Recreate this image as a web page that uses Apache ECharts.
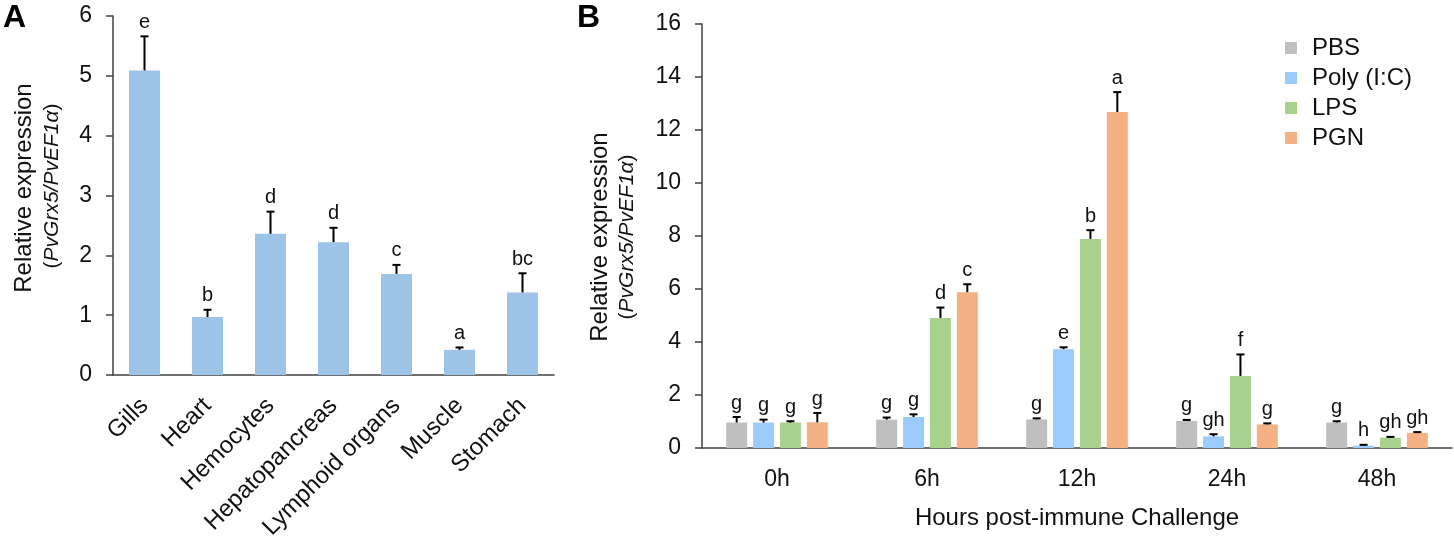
<!DOCTYPE html>
<html>
<head>
<meta charset="utf-8">
<title>PvGrx5 expression</title>
<script src="https://cdn.jsdelivr.net/npm/echarts@6/dist/echarts.min.js"></script>
<style>
  body { margin: 0; background: #fff; }
  #main { width: 1454px; height: 539px; }
</style>
</head>
<body>
<div id="main"></div>
<script type="text/javascript">
  // panel A - tissues
  var tissues = ['Gills', 'Heart', 'Hemocytes', 'Hepatopancreas', 'Lymphoid organs', 'Muscle', 'Stomach'];
  var tissueMean = [5.09, 0.97, 2.36, 2.22, 1.69, 0.42, 1.38];
  var tissueSd = [0.57, 0.12, 0.37, 0.24, 0.15, 0.04, 0.32];
  var tissueSig = ['e', 'b', 'd', 'd', 'c', 'a', 'bc'];

  // panel B - time course
  var hours = ['0h', '6h', '12h', '24h', '48h'];
  var groups = ['PBS', 'Poly (I:C)', 'LPS', 'PGN'];
  var pbs = [0.96, 1.07, 1.08, 1.02, 0.96];
  var pbsSd = [0.21, 0.08, 0.04, 0.04, 0.05];
  var poly = [0.96, 1.17, 3.73, 0.44, 0.09];
  var polySd = [0.11, 0.10, 0.07, 0.08, 0.03];
  var lps = [0.96, 4.91, 7.89, 2.72, 0.39];
  var lpsSd = [0.05, 0.39, 0.33, 0.81, 0.03];
  var pgn = [0.97, 5.88, 12.68, 0.89, 0.57];
  var pgnSd = [0.35, 0.30, 0.75, 0.04, 0.03];
  var pbsSig = ['g', 'g', 'g', 'g', 'g'];
  var polySig = ['g', 'g', 'e', 'gh', 'h'];
  var lpsSig = ['g', 'd', 'b', 'f', 'gh'];
  var pgnSig = ['g', 'c', 'a', 'g', 'gh'];

  var FONT = 'Liberation Sans, Arial, sans-serif';
  var colors = ['#bfbfbf', '#9bcbfb', '#a9d18e', '#f4b183'];
  var BW = 21, GAP = 0.28;

  function pack(vals, sds) {
    return vals.map(function (v, i) { return [i, v, sds[i]]; });
  }

  // error bar (upper only) + letter above it
  function errItem(sig, offset) {
    return function (params, api) {
      var i = api.value(0), v = api.value(1), e = api.value(2);
      var base = api.coord([i, v]);
      var top = api.coord([i, v + e]);
      var x = base[0] + offset;
      return {
        type: 'group',
        children: [
          { type: 'line', shape: { x1: x, y1: base[1], x2: x, y2: top[1] }, style: { stroke: '#000', lineWidth: 2 } },
          { type: 'line', shape: { x1: x - 4, y1: top[1], x2: x + 4, y2: top[1] }, style: { stroke: '#000', lineWidth: 2 } },
          { type: 'text', x: x, y: top[1] - 4,
            style: { text: sig[params.dataIndex], textAlign: 'center', textVerticalAlign: 'bottom',
                     font: '20px ' + FONT, fill: '#111' } }
        ]
      };
    };
  }

  var axisLine = { lineStyle: { color: '#404040', width: 1.5 } };
  var tickLbl = { color: '#111', fontSize: 23, fontFamily: FONT, margin: 21 };

  var bSeries = [];
  var bVals = [pbs, poly, lps, pgn], bSds = [pbsSd, polySd, lpsSd, pgnSd], bSig = [pbsSig, polySig, lpsSig, pgnSig];
  for (var s = 0; s < 4; s++) {
    bSeries.push({
      name: groups[s], type: 'bar', xAxisIndex: 1, yAxisIndex: 1,
      data: bVals[s], barWidth: BW, barGap: (GAP * 100) + '%',
      itemStyle: { color: colors[s] }
    });
  }
  for (var s = 0; s < 4; s++) {
    bSeries.push({
      name: 'err' + s, type: 'custom', xAxisIndex: 1, yAxisIndex: 1, z: 5,
      renderItem: errItem(bSig[s], (s - 1.5) * BW * (1 + GAP)),
      encode: { x: 0, y: 1 },
      data: pack(bVals[s], bSds[s])
    });
  }

  var myChart = echarts.init(document.getElementById('main'));
  myChart.setOption({
    animation: false,
    textStyle: { fontFamily: FONT },
    grid: [
      { left: 113, top: 16, width: 441, height: 359, outerBoundsMode: 'none', containLabel: false },
      { left: 702, top: 24, width: 750, height: 424, outerBoundsMode: 'none', containLabel: false }
    ],
    legend: {
      data: groups, orient: 'vertical', left: 1280, top: 31,
      itemWidth: 12, itemHeight: 12, itemGap: 6, icon: 'rect',
      textStyle: { fontSize: 24, fontFamily: FONT, color: '#111', lineHeight: 24, padding: [0, 0, 0, 10] }
    },
    xAxis: [
      { type: 'category', gridIndex: 0, data: tissues,
        axisLine: axisLine, axisTick: { alignWithLabel: true, length: 6, lineStyle: { color: '#404040', width: 1.5 } },
        axisLabel: { rotate: 45, fontSize: 24, fontFamily: FONT, color: '#111', margin: 27, interval: 0 } },
      { type: 'category', gridIndex: 1, data: hours,
        axisLine: axisLine, axisTick: { inside: true, length: 6, lineStyle: { color: '#404040', width: 1.5 } },
        axisLabel: { fontSize: 23, fontFamily: FONT, color: '#111', margin: 20 },
        name: 'Hours post-immune Challenge', nameLocation: 'middle', nameGap: 58,
        nameTextStyle: { fontSize: 24, fontFamily: FONT, color: '#111' } },
      { type: 'category', gridIndex: 1, data: hours,
        axisLine: { show: false }, axisLabel: { show: false },
        axisTick: { alignWithLabel: true, length: 6, lineStyle: { color: '#404040', width: 1.5 } } }
    ],
    yAxis: [
      { type: 'value', gridIndex: 0, min: 0, max: 6, interval: 1,
        axisLine: { show: true, lineStyle: { color: '#404040', width: 1.5 } },
        axisTick: { show: true, length: 7, lineStyle: { color: '#404040', width: 1.5 } },
        splitLine: { show: false }, axisLabel: tickLbl },
      { type: 'value', gridIndex: 1, min: 0, max: 16, interval: 2,
        axisLine: { show: true, lineStyle: { color: '#404040', width: 1.5 } },
        axisTick: { show: true, length: 7, lineStyle: { color: '#404040', width: 1.5 } },
        splitLine: { show: false }, axisLabel: tickLbl }
    ],
    graphic: [
      { type: 'text', left: 3, top: 2, style: { text: 'A', font: 'bold 32px ' + FONT, fill: '#000' } },
      { type: 'text', left: 577, top: 2, style: { text: 'B', font: 'bold 32px ' + FONT, fill: '#000' } },
      { type: 'text', x: 24, y: 188, rotation: Math.PI / 2,
        style: { text: 'Relative expression', textAlign: 'center', textVerticalAlign: 'middle', font: '24px ' + FONT, fill: '#111' } },
      { type: 'text', x: 52, y: 186, rotation: Math.PI / 2,
        style: { text: '{n|(}{i|PvGrx5/PvEF1α}{n|)}', textAlign: 'center', textVerticalAlign: 'middle', fill: '#111',
          rich: { n: { fontSize: 21, fontFamily: FONT }, i: { fontSize: 21, fontFamily: FONT, fontStyle: 'italic' } } } },
      { type: 'text', x: 600, y: 237, rotation: Math.PI / 2,
        style: { text: 'Relative expression', textAlign: 'center', textVerticalAlign: 'middle', font: '24px ' + FONT, fill: '#111' } },
      { type: 'text', x: 627, y: 237, rotation: Math.PI / 2,
        style: { text: '{n|(}{i|PvGrx5/PvEF1α}{n|)}', textAlign: 'center', textVerticalAlign: 'middle', fill: '#111',
          rich: { n: { fontSize: 21, fontFamily: FONT }, i: { fontSize: 21, fontFamily: FONT, fontStyle: 'italic' } } } }
    ],
    series: [
      { name: 'tissue', type: 'bar', xAxisIndex: 0, yAxisIndex: 0, data: tissueMean, barWidth: 31,
        itemStyle: { color: '#9dc3e6' } },
      { name: 'tissueErr', type: 'custom', xAxisIndex: 0, yAxisIndex: 0, z: 5,
        renderItem: errItem(tissueSig, 0), encode: { x: 0, y: 1 },
        data: pack(tissueMean, tissueSd) }
    ].concat(bSeries)
  });
</script>
</body>
</html>
